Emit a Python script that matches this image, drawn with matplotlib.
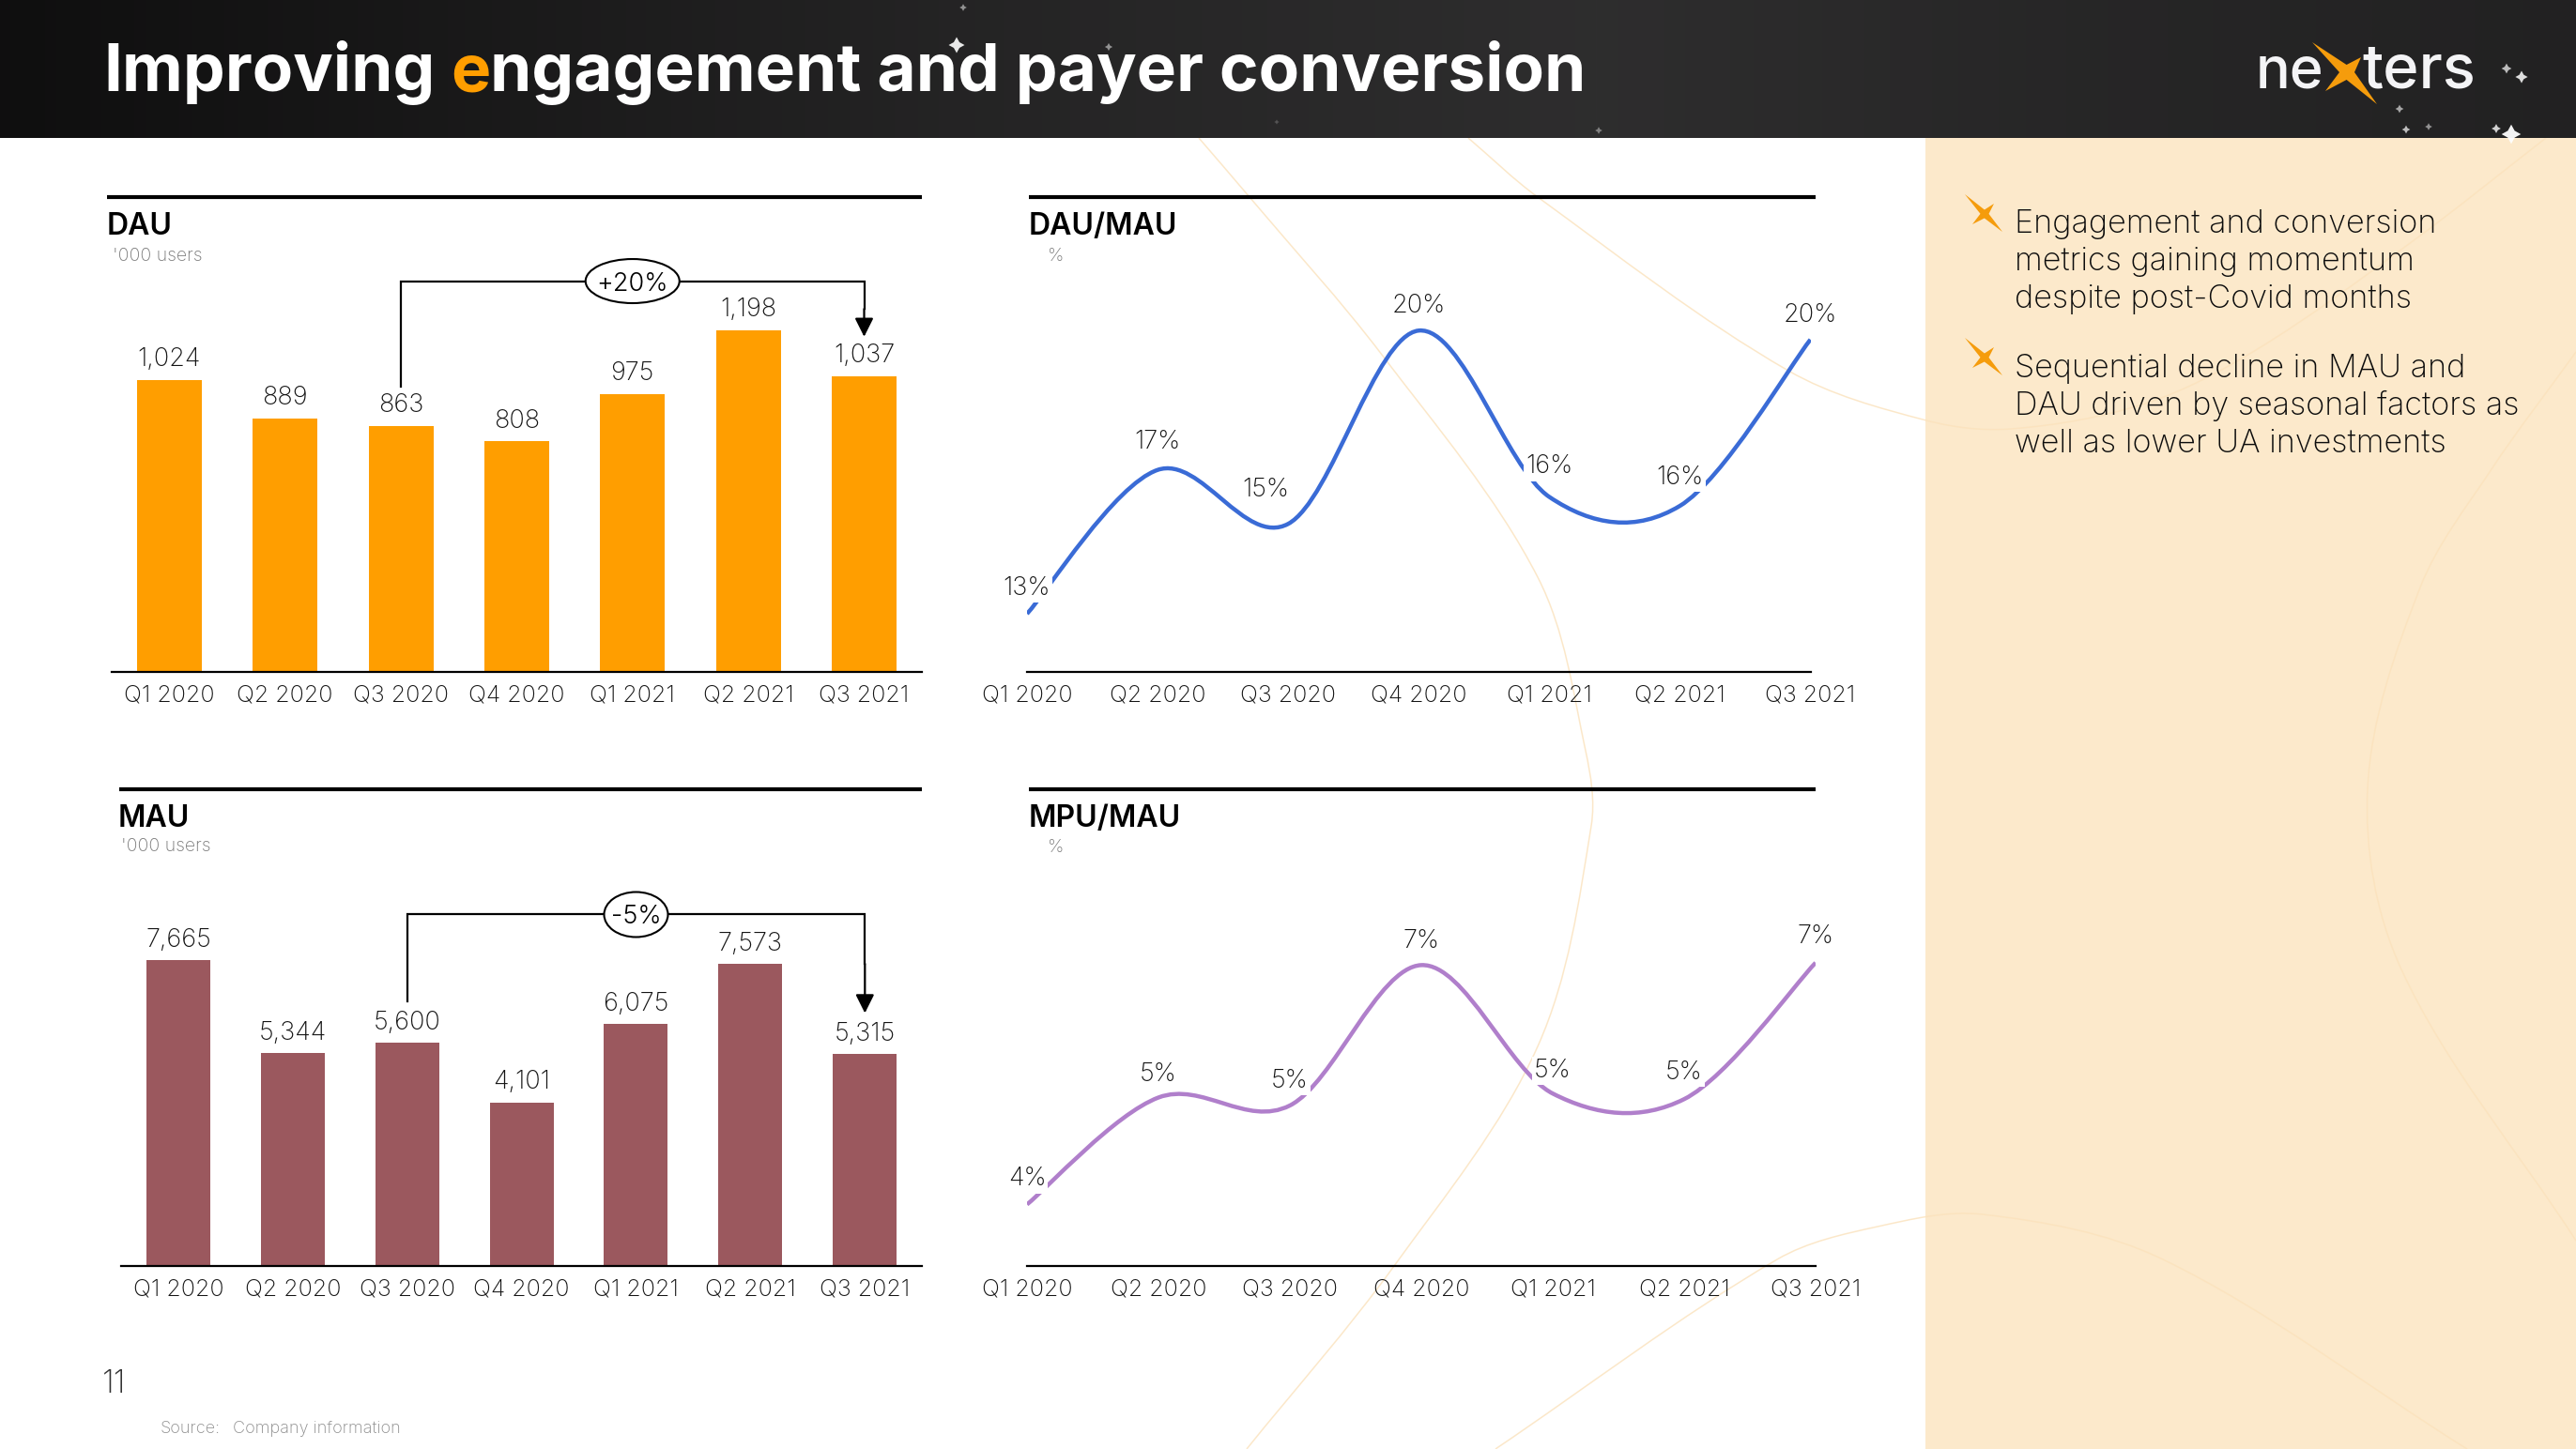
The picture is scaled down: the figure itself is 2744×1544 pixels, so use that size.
import numpy as np
import matplotlib
matplotlib.use("Agg")
import matplotlib.pyplot as plt
from matplotlib.path import Path
from matplotlib.patches import PathPatch, Polygon, Rectangle, Ellipse

plt.rcParams['font.family'] = ['Inter', 'DejaVu Sans']

W, H = 2744, 1544

# Data
quarters = ['Q1 2020', 'Q2 2020', 'Q3 2020', 'Q4 2020', 'Q1 2021', 'Q2 2021', 'Q3 2021']
dau = [1024, 889, 863, 808, 975, 1198, 1037]
mau = [7665, 5344, 5600, 4101, 6075, 7573, 5315]
dau_mau = [13.4, 16.6, 15.4, 19.7, 16.0, 15.8, 19.5]
mpu_mau = [4.0, 5.34, 5.24, 7.0, 5.39, 5.32, 7.03]
dau_mau_labels = ['13%', '17%', '15%', '20%', '16%', '16%', '20%']
mpu_mau_labels = ['4%', '5%', '5%', '7%', '5%', '5%', '7%']
bullets = [['Engagement and conversion', 'metrics gaining momentum', 'despite post-Covid months'],
           ['Sequential decline in MAU and', 'DAU driven by seasonal factors as', 'well as lower UA investments']]

ORANGE = '#ff9e00'
MAROON = '#9b585e'
BLUE = '#3a6bd6'
PURPLE = '#b07fcb'
TXT = '#141414'
LIGHT = 200
HEAD = 147


def smooth_path(x, y):
    # same kind of smoothing as an Excel smoothed line
    x = np.asarray(x, float)
    y = np.asarray(y, float)
    n = len(x)
    verts = [(x[0], y[0])]
    codes = [Path.MOVETO]
    for i in range(n - 1):
        a, b = max(i - 1, 0), min(i + 2, n - 1)
        verts.append((x[i] + (x[i + 1] - x[a]) / 6, y[i] + (y[i + 1] - y[a]) / 6))
        verts.append((x[i + 1] - (x[b] - x[i]) / 6, y[i + 1] - (y[b] - y[i]) / 6))
        verts.append((x[i + 1], y[i + 1]))
        codes += [Path.CURVE4] * 3
    return Path(verts, codes)


def soft_path(pts):
    # for the background curves, whose points are unevenly spaced
    p = np.asarray(pts, float)
    n = len(p)
    tang = []
    for i in range(n):
        d = p[min(i + 1, n - 1)] - p[max(i - 1, 0)]
        tang.append(d / np.hypot(*d))
    verts = [tuple(p[0])]
    codes = [Path.MOVETO]
    for i in range(n - 1):
        seg = np.hypot(*(p[i + 1] - p[i]))
        verts.append(tuple(p[i] + tang[i] * seg / 3))
        verts.append(tuple(p[i + 1] - tang[i + 1] * seg / 3))
        verts.append(tuple(p[i + 1]))
        codes += [Path.CURVE4] * 3
    return Path(verts, codes)


def star(ax, cx, cy, tips, r, zorder=6):
    pts = []
    for k, (tx, ty) in enumerate(tips):
        pts.append((tx, ty))
        nx, ny = tips[(k + 1) % 4]
        a = np.array([tx - cx, ty - cy]) / np.hypot(tx - cx, ty - cy)
        b = np.array([nx - cx, ny - cy]) / np.hypot(nx - cx, ny - cy)
        m = (a + b) / np.hypot(*(a + b))
        pts.append((cx + r * m[0], cy + r * m[1]))
    ax.add_patch(Polygon(pts, closed=True, fc='#f59c0c', ec='none', zorder=zorder))


def px_axes(x0, x1, ybase, ytop):
    ax = fig.add_axes([x0 / W, 1 - ybase / H, (x1 - x0) / W, (ybase - ytop) / H])
    ax.patch.set_alpha(0)
    for s in ['top', 'left', 'right']:
        ax.spines[s].set_visible(False)
    ax.spines['bottom'].set_linewidth(1.6)
    ax.set_yticks([])
    ax.set_xticks(range(7))
    ax.set_xticklabels(quarters, fontsize=18, weight=LIGHT, color=TXT)
    ax.tick_params(axis='x', length=0, pad=10)
    return ax


fig = plt.figure(figsize=(W / 100, H / 100), dpi=100, facecolor='white')

# --- Page background, in picture pixels ---
bg = fig.add_axes([0, 0, 1, 1])
bg.set_xlim(0, W)
bg.set_ylim(H, 0)
bg.axis('off')

bg.add_patch(Rectangle((2051, HEAD), W - 2051, H - HEAD, fc='#fce9cb', ec='none', zorder=1))

curves = [
    [(1277, 147), (1331, 210), (1472, 378), (1638, 615), (1689, 800), (1695, 880), (1638, 1115), (1485, 1349), (1328, 1544)],
    [(1564, 147), (1638, 210), (1905, 395), (2052, 448), (2142, 457), (2285, 430), (2403, 373), (2570, 257), (2712, 147)],
    [(2744, 375), (2654, 500), (2578, 626), (2522, 840), (2558, 1033), (2744, 1322)],
    [(1593, 1544), (1893, 1342), (2000, 1307), (2112, 1294), (2304, 1342), (2628, 1544)],
]
for c in curves:
    bg.add_patch(PathPatch(soft_path(c), fc='none', ec='#fbe2bc', lw=1.1, alpha=0.8, zorder=2))

# header with a soft gradient
stops_x = [0, 1000, 1700, 2200, 2744]
stops_v = [15, 36, 46, 39, 34]
grad = np.interp(np.arange(W), stops_x, stops_v)[None, :] / 255
bg.imshow(np.dstack([grad, grad * 0.985, grad]), extent=(0, W, HEAD, 0), aspect='auto', zorder=3)
bg.set_xlim(0, W)
bg.set_ylim(H, 0)

star_x = [1019, 1026, 1181, 1703, 1360, 2670, 2686, 2556, 2563, 2587, 2659, 2675]
star_y = [48, 8, 50, 139, 130, 73, 82, 116, 138, 135, 137, 143]
star_s = [150, 30, 35, 30, 15, 60, 90, 40, 40, 30, 50, 220]
star_a = [0.9, 0.5, 0.5, 0.4, 0.2, 0.7, 0.85, 0.6, 0.7, 0.5, 0.8, 0.95]
bg.scatter(star_x, star_y, s=star_s, marker=(4, 1, 0), c=[(1, 1, 1, a) for a in star_a], linewidths=0, zorder=4)

# title, with the orange e
r = fig.canvas.get_renderer()
title_kw = dict(fontsize=51.2, weight=700, va='baseline', zorder=5)
t_e = bg.text(0, 97, 'e', color=ORANGE, **title_kw)
e_w = t_e.get_window_extent(r).width
t_a = bg.text(110, 97, 'Improving e', color='white', **title_kw)
a_w = t_a.get_window_extent(r).width
t_a.set_text('Improving')
t_e.set_x(110 + a_w - e_w)
bg.text(110 + a_w, 97, 'ngagement and payer conversion', color='white', **title_kw)

# logo
bg.text(2403, 93, 'ne', fontsize=44, weight=500, color='#f4f4f6', va='baseline', zorder=5)
bg.text(2516, 93, 'ters', fontsize=47, weight=500, color='#f4f4f6', va='baseline', zorder=5)
star(bg, 2500, 77, [(2463, 45), (2515, 61), (2532, 111), (2477, 97)], 8)

# rules and panel titles
rules = [(114, 982, 210), (1096, 1934, 210), (127, 982, 841), (1096, 1934, 841)]
for x0, x1, y in rules:
    bg.plot([x0, x1], [y, y], color='black', lw=3, solid_capstyle='butt', zorder=5)
heads = [(114, 250, 'DAU', 120, 278, "'000 users"), (1096, 250, 'DAU/MAU', 1116, 278, '%'),
         (126, 881, 'MAU', 129, 907, "'000 users"), (1096, 881, 'MPU/MAU', 1116, 908, '%')]
for hx, hy, name, sx, sy, sub in heads:
    bg.text(hx, hy, name, fontsize=23, weight=600, color='black', va='baseline', zorder=5)
    bg.text(sx, sy, sub, fontsize=14, weight=LIGHT, color='#7a7a7a', va='baseline', zorder=5)

# bullets on the right
baselines = [[248, 288, 328], [402, 442, 482]]
for lines, ys in zip(bullets, baselines):
    for s, y in zip(lines, ys):
        bg.text(2146, y, s, fontsize=24.6, weight=LIGHT, color='#0c0c0c', va='baseline', zorder=5)
for dy in [0, 153]:
    star(bg, 2114, 228 + dy, [(2093, 207 + dy), (2124, 217 + dy), (2133, 247 + dy), (2101, 239 + dy)], 4.5)

bg.text(109, 1484, '11', fontsize=24, weight=LIGHT, color='#333333', va='baseline', zorder=5)
bg.text(171, 1527, 'Source:', fontsize=13, weight=LIGHT, color='#8c8c8c', va='baseline', zorder=5)
bg.text(248, 1527, 'Company information', fontsize=13, weight=LIGHT, color='#8c8c8c', va='baseline', zorder=5)


def bar_panel(x0, x1, ybase, ytop, values, color, scale, width, first, step, bracket, pct, oval):
    ax = px_axes(x0, x1, ybase, ytop)
    ax.set_xlim((x0 - first) / step, (x1 - first) / step)
    ax.set_ylim(0, (ybase - ytop) / scale)
    bars = ax.bar(range(7), values, width=width / step, color=color)
    ax.bar_label(bars, labels=[f'{v:,}' for v in values], padding=6, fontsize=19.5, weight=LIGHT, color=TXT)
    top, low, tip = bracket
    ax.plot([2, 2, 6, 6], [low, top, top, (top + tip) / 2], color='black', lw=1.6,
            solid_joinstyle='miter', clip_on=False)
    ax.annotate('', xy=(6, tip), xytext=(6, (top + tip) / 2),
                arrowprops=dict(arrowstyle='-|>,head_length=0.6,head_width=0.3', mutation_scale=20,
                                color='black', lw=1.6, shrinkA=0, shrinkB=0))
    ax.add_patch(Ellipse((4, top), oval[0] / step, oval[1] / scale, fc='white', ec='black', lw=1.5, zorder=5))
    ax.text(4, top, pct, ha='center', va='center_baseline', fontsize=19.5, weight=300, color='black', zorder=6)
    return ax


bar_panel(119, 982, 716, 150, dau, ORANGE, 0.304, 69, 180.25, 123.375, (1370, 1001, 1175), '+20%', (100, 47))
bar_panel(129, 982, 1349, 800, mau, MAROON, 0.04247, 68, 189.9, 121.9, (8818, 6640, 6345), '-5%', (68, 48))


def line_panel(x0, x1, ybase, ytop, values, labels, color, vmin, scale, offs):
    ax = px_axes(x0, x1, ybase, ytop)
    ax.set_xlim(0, 6)
    ax.set_ylim(vmin, vmin + (ybase - ytop) / scale)
    ax.add_patch(PathPatch(smooth_path(range(7), values), fc='none', ec=color, lw=3.2, capstyle='butt', zorder=3))
    for i, (lab, v) in enumerate(zip(labels, values)):
        ax.annotate(lab, xy=(i, v), xytext=offs[i], textcoords='offset pixels', ha='center', va='center',
                    fontsize=19.5, weight=LIGHT, color=TXT, zorder=4, annotation_clip=False,
                    bbox=dict(fc='white', ec='none', pad=1.5))
    return ax


line_panel(1094, 1928.5, 716, 150, dau_mau, dau_mau_labels, BLUE, 12.106, 47.9,
           [(0, 27), (0, 30), (-24, 36), (0, 26), (0, 32), (0, 30), (0, 26)])
line_panel(1094, 1934, 1349, 800, mpu_mau, mpu_mau_labels, PURPLE, 3.228, 85,
           [(0, 27), (0, 24), (0, 26), (0, 25), (0, 24), (0, 28), (0, 28)])

fig.savefig('out.png', dpi=100)
